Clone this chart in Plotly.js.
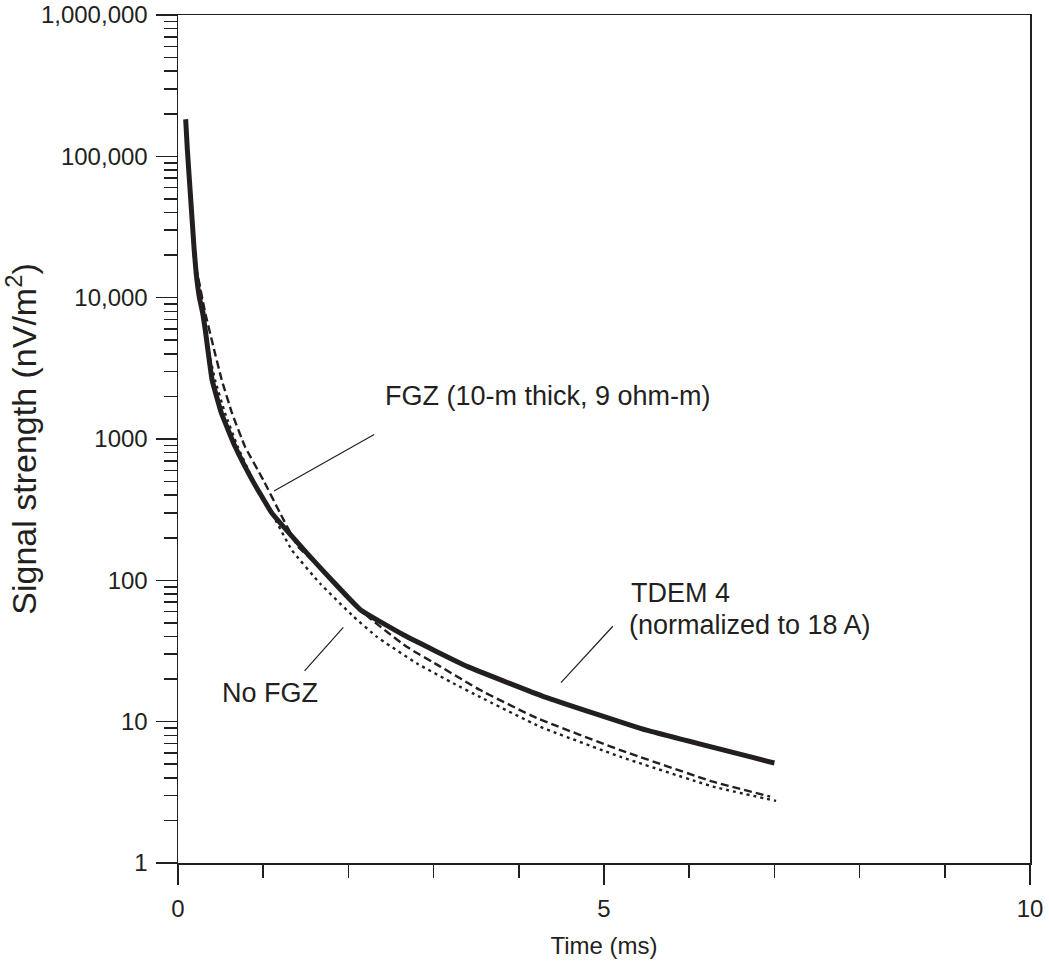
<!DOCTYPE html>
<html>
<head>
<meta charset="utf-8">
<script src="https://cdn.plot.ly/plotly-3.0.1.min.js"></script>
<style>html,body{margin:0;padding:0;background:#fff;}#chart{width:1049px;height:967px;}</style>
</head>
<body>
<div id="chart"></div>
<script>
// Time in ms, signal in nV/m^2
const tdemTime   = [0.09, 0.11, 0.15, 0.19, 0.215, 0.25, 0.29, 0.32, 0.40, 0.51, 0.67, 0.87, 1.10, 1.55, 2.14, 2.65, 3.40, 4.30, 5.50, 7.00];
const tdemSignal = [183000, 111000, 49000, 21800, 14500, 10100, 7770, 5920, 2620, 1520, 884, 514, 300, 147, 62, 41, 24.5, 15.0, 8.7, 5.1];

const fgzTime   = [0.185, 0.32, 0.415, 0.513, 0.634, 0.786, 1.00, 1.197, 1.41, 1.59, 2.25, 2.68, 3.08, 3.54, 4.21, 5.19, 6.28, 6.95];
const fgzSignal = [20000, 7770, 4510, 2620, 1523, 884, 514, 300, 173, 136, 54, 34, 24.5, 16.8, 10.6, 6.3, 3.76, 2.95];

const noFgzTime   = [0.185, 0.31, 0.35, 0.434, 0.552, 0.70, 0.88, 1.10, 1.335, 1.667, 2.06, 2.33, 2.80, 3.23, 3.54, 4.25, 5.19, 6.28, 7.02];
const noFgzSignal = [20000, 7770, 4510, 2620, 1523, 884, 514, 300, 164, 95, 55.4, 40, 25.9, 18.7, 15.0, 9.2, 5.65, 3.47, 2.75];

const yTickVals = [1, 10, 100, 1000, 10000, 100000, 1000000];
const yTickText = ['1', '10', '100', '1000', '10,000', '100,000', '1,000,000'];
const xTickVals = [0, 5, 10];
const xTickText = ['0', '5', '10'];

const ink = '#231f20';
const fontFam = '"Liberation Sans", Arial, Helvetica, sans-serif';

const traces = [
  {x: fgzTime, y: fgzSignal, mode: 'lines', name: 'FGZ',
   line: {color: ink, width: 2.4, dash: '8px,4px', shape: 'spline', smoothing: 0.3}},
  {x: noFgzTime, y: noFgzSignal, mode: 'lines', name: 'No FGZ',
   line: {color: ink, width: 2.4, dash: '3px,4px', shape: 'spline', smoothing: 0.3}},
  {x: tdemTime, y: tdemSignal, mode: 'lines', name: 'TDEM 4',
   line: {color: ink, width: 5, shape: 'spline', smoothing: 0.3}}
];

const L = Math.log10;
const annFont = {family: fontFam, size: 27, color: ink};
const annotations = [
  {x: 2.41, y: L(2000), xref: 'x', yref: 'y', text: 'FGZ (10-m thick, 9 ohm-m)', showarrow: false,
   xanchor: 'left', yanchor: 'middle', font: annFont},
  {x: 5.30, y: L(63.2), xref: 'x', yref: 'y', text: 'TDEM 4', showarrow: false,
   xanchor: 'left', yanchor: 'bottom', borderpad: 0, font: annFont},
  {x: 5.28, y: L(63.2), xref: 'x', yref: 'y', text: '(normalized to 18 A)', showarrow: false,
   xanchor: 'left', yanchor: 'top', borderpad: 0, font: annFont},
  {x: 0.49, y: L(16), xref: 'x', yref: 'y', text: 'No FGZ', showarrow: false,
   xanchor: 'left', yanchor: 'middle', font: annFont},
  // leader lines
  {x: 1.127, y: L(429), xref: 'x', yref: 'y', ax: 2.32, ay: L(1090), axref: 'x', ayref: 'y',
   text: '', showarrow: true, arrowhead: 0, arrowwidth: 1.2, arrowcolor: ink, standoff: 0, startstandoff: 0},
  {x: 4.495, y: L(18.9), xref: 'x', yref: 'y', ax: 5.12, ay: L(48.5), axref: 'x', ayref: 'y',
   text: '', showarrow: true, arrowhead: 0, arrowwidth: 1.2, arrowcolor: ink, standoff: 0, startstandoff: 0},
  {x: 1.94, y: L(46.5), xref: 'x', yref: 'y', ax: 1.47, ay: L(22.3), axref: 'x', ayref: 'y',
   text: '', showarrow: true, arrowhead: 0, arrowwidth: 1.2, arrowcolor: ink, standoff: 0, startstandoff: 0}
];

const layout = {
  width: 1049, height: 967,
  margin: {l: 178, r: 19, t: 15, b: 104},
  paper_bgcolor: '#fff', plot_bgcolor: '#fff',
  showlegend: false,
  font: {family: fontFam, color: ink, size: 24},
  xaxis: {
    type: 'linear', range: [0, 10], autorange: false,
    tickvals: xTickVals, ticktext: xTickText,
    ticks: 'outside', ticklen: 20, tickwidth: 1.5, tickcolor: ink,
    ticklabelstandoff: 4,
    minor: {dtick: 1, ticks: 'outside', ticklen: 13, tickwidth: 1.5, tickcolor: ink, showgrid: false},
    showline: true, linecolor: ink, linewidth: 1.5, mirror: true,
    showgrid: false, zeroline: false,
    tickfont: {size: 24, color: ink, family: fontFam},
    title: {text: 'Time (ms)', font: {size: 24, color: ink, family: fontFam}, standoff: 16}
  },
  yaxis: {
    type: 'log', range: [0, 6], autorange: false,
    tickvals: yTickVals, ticktext: yTickText,
    ticks: 'outside', ticklen: 21, tickwidth: 1.5, tickcolor: ink,
    ticklabelstandoff: 3,
    minor: {dtick: 'D1', ticks: 'outside', ticklen: 13, tickwidth: 1.5, tickcolor: ink, showgrid: false},
    showline: true, linecolor: ink, linewidth: 1.5, mirror: true,
    showgrid: false, zeroline: false,
    tickfont: {size: 24, color: ink, family: fontFam},
    title: {text: 'Signal strength (nV/m<sup>2</sup>)', font: {size: 34, color: ink, family: fontFam}, standoff: 0}
  },
  annotations: annotations
};

Plotly.newPlot('chart', traces, layout, {displayModeBar: false, staticPlot: true});
</script>
</body>
</html>
